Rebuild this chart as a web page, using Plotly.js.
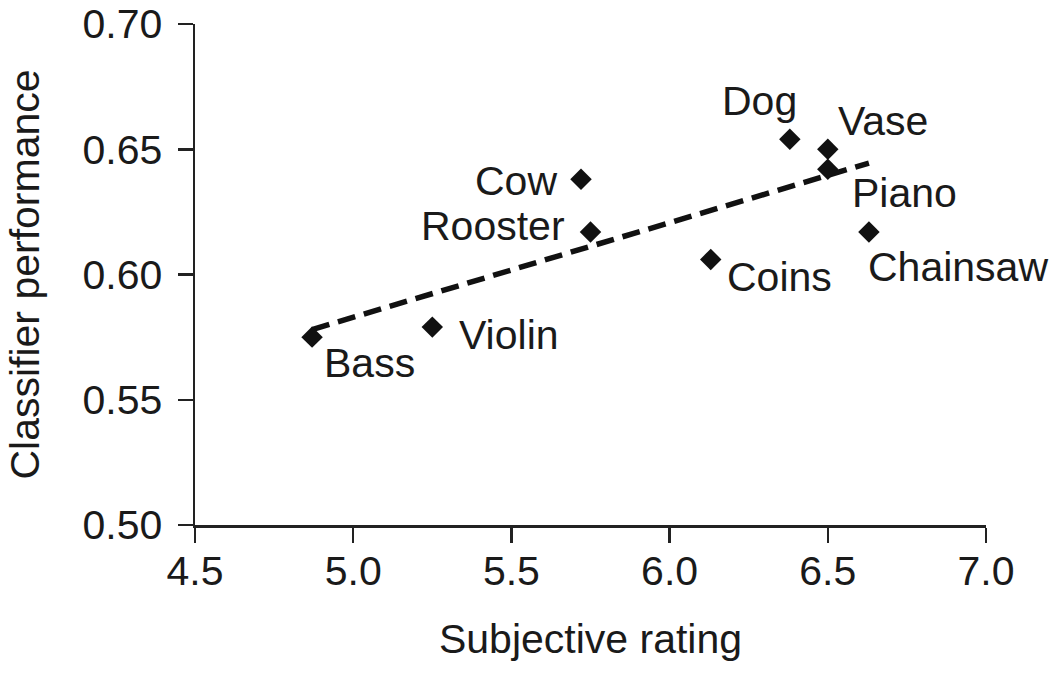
<!DOCTYPE html>
<html>
<head>
<meta charset="utf-8">
<script src="https://cdn.plot.ly/plotly-3.0.1.min.js"></script>
<style>html,body{margin:0;padding:0;background:#fff;}#chart{width:1050px;height:673px;}</style>
</head>
<body>
<div id="chart"></div>
<script>
// Data
const labels = ["Bass", "Violin", "Cow", "Rooster", "Coins", "Dog", "Vase", "Piano", "Chainsaw"];
const subjectiveRating = [4.87, 5.25, 5.72, 5.75, 6.13, 6.38, 6.50, 6.50, 6.63];
const classifierPerformance = [0.575, 0.579, 0.638, 0.617, 0.606, 0.654, 0.650, 0.642, 0.617];
const trendX = [4.87, 6.63];
const trendY = [0.578, 0.6445];
const xTicks = [4.5, 5.0, 5.5, 6.0, 6.5, 7.0];
const xTickText = ["4.5", "5.0", "5.5", "6.0", "6.5", "7.0"];
const yTicks = [0.50, 0.55, 0.60, 0.65, 0.70];
const yTickText = ["0.50", "0.55", "0.60", "0.65", "0.70"];

// Label placement (style): anchor and pixel shifts
const labelStyle = {
  "Bass":     {xa: "left",  dx: 10,  dy: -26},
  "Violin":   {xa: "left",  dx: 25,  dy: -8},
  "Cow":      {xa: "right", dx: -22, dy: -2},
  "Rooster":  {xa: "right", dx: -24, dy: 6},
  "Coins":    {xa: "left",  dx: 14,  dy: -18},
  "Dog":      {xa: "right", dx: 9,   dy: 38},
  "Vase":     {xa: "left",  dx: 8,   dy: 28},
  "Piano":    {xa: "left",  dx: 22,  dy: -24},
  "Chainsaw": {xa: "left",  dx: -3,  dy: -35}
};

const FONT = "'Liberation Sans', Arial, Helvetica, sans-serif";
const INK = "#1a1a1a";
const FS = 41;

const traces = [
  {
    x: trendX, y: trendY, type: "scatter", mode: "lines",
    line: {color: "#111", width: 5.5, dash: "18px,9px"},
    hoverinfo: "skip", showlegend: false
  },
  {
    x: subjectiveRating, y: classifierPerformance, text: labels,
    type: "scatter", mode: "markers",
    marker: {symbol: "diamond", size: 16.5, color: "#111", line: {width: 0}},
    showlegend: false
  }
];

const annotations = labels.map((lab, i) => ({
  x: subjectiveRating[i], y: classifierPerformance[i],
  xref: "x", yref: "y", text: lab, showarrow: false,
  xanchor: labelStyle[lab].xa, yanchor: "middle",
  xshift: labelStyle[lab].dx, yshift: labelStyle[lab].dy,
  font: {family: FONT, size: FS, color: INK}
}));

const axisCommon = {
  showline: true, linecolor: "#222", linewidth: 2.5,
  ticks: "outside", ticklen: 15, tickwidth: 2.5, tickcolor: "#222",
  showgrid: false, zeroline: false,
  tickfont: {family: FONT, size: FS, color: INK},
  tickmode: "array", automargin: false, ticklabeloverflow: "allow"
};

const layout = {
  width: 1050, height: 673,
  margin: {l: 195, r: 64, t: 24, b: 148},
  paper_bgcolor: "#fff", plot_bgcolor: "#fff",
  font: {family: FONT, size: FS, color: INK},
  xaxis: Object.assign({}, axisCommon, {
    range: [4.5, 7.0], tickvals: xTicks, ticktext: xTickText,
    ticklabelstandoff: -7,
    title: {text: "Subjective rating", font: {family: FONT, size: FS, color: INK}, standoff: 32}
  }),
  yaxis: Object.assign({}, axisCommon, {
    range: [0.50, 0.70], tickvals: yTicks, ticktext: yTickText,
    ticklabelstandoff: 7,
    title: {text: "Classifier performance", font: {family: FONT, size: FS, color: INK}, standoff: 30}
  }),
  annotations: annotations,
  showlegend: false
};

Plotly.newPlot("chart", traces, layout, {displayModeBar: false, staticPlot: true});
</script>
</body>
</html>
